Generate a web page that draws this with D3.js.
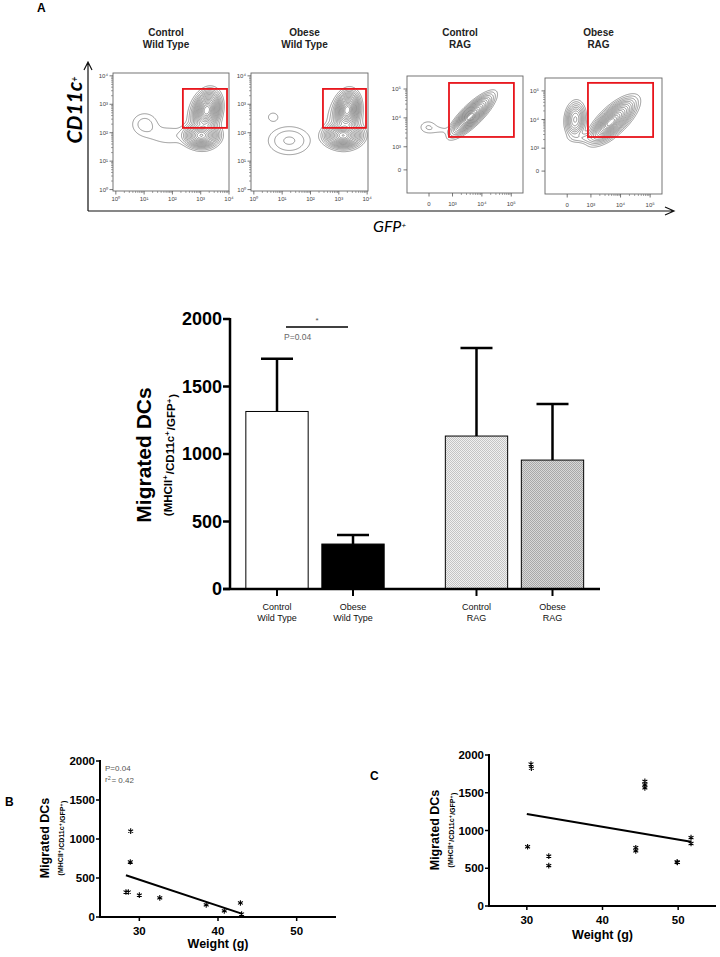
<!DOCTYPE html>
<html><head><meta charset="utf-8">
<script src="https://cdn.jsdelivr.net/npm/d3@7"></script>
<style>body{margin:0;background:#fff} svg{display:block;font-family:"Liberation Sans",Arial,sans-serif}</style>
</head><body><svg id="c" width="720" height="957"></svg>
<script>
// ---------------- DATA ----------------
const flowTitles = [["Control","Wild Type"],["Obese","Wild Type"],["Control","RAG"],["Obese","RAG"]];
const logTicks = [0,1,2,3,4];
const logTickLabels = ["10⁰","10¹","10²","10³","10⁴"];
const ragTicks = [2.2,3,4,5];
const ragTickLabels = ["0","10³","10⁴","10⁵"];
// density blobs for contour plots: [cx, cy, sx, sy, rho, weight] in axis (decade) units
const blobsControlWT = [[3.22,2.8,0.2,0.28,0.2,1.0],[3.02,1.9,0.26,0.18,0,0.8],[3.1,2.35,0.28,0.42,0,0.08],[1.02,2.3,0.3,0.26,0,0.028],[1.9,1.9,0.5,0.22,0,0.02]];
const blobsObeseWT = [[3.3,2.8,0.18,0.27,0.15,1.0],[3.15,1.9,0.28,0.18,0,0.9],[3.2,2.35,0.3,0.42,0,0.08],[0.68,2.55,0.14,0.12,0,0.02],[1.25,1.72,0.45,0.3,0,0.04]];
const blobsControlRAG = [[3.66,4.1,0.3,0.3,0.82,1.0],[3.55,4.0,0.18,0.18,0.8,0.5],[2.17,3.68,0.2,0.15,0,0.03],[2.62,3.58,0.25,0.1,0,0.016]];
const blobsObeseRAG = [[3.75,3.97,0.32,0.32,0.72,1.0],[3.6,3.85,0.2,0.2,0.7,0.5],[2.47,4.0,0.15,0.27,0.1,0.4],[2.9,3.35,0.35,0.1,0,0.05]];
// gates [x1, x2, y1, y2]
const gates = [[2.37,3.93,2.17,3.54],[2.44,3.96,2.17,3.54],[2.88,5.09,3.34,5.21],[2.9,5.1,3.39,5.28]];
const contourLevels = [0.01,0.02,0.035,0.055,0.08,0.11,0.15,0.2,0.26,0.33,0.41,0.5,0.6,0.7,0.8,0.9];

const barGroups = ["Wild Type","RAG"];
const barConditions = ["Control","Obese"];
const barMeans = [1315, 333, 1133, 955];      // Control WT, Obese WT, Control RAG, Obese RAG
const barUpper = [1705, 400, 1785, 1370];     // top of error bars
const barYTicks = [0,500,1000,1500,2000];

const bWeight = [28.3, 28.6, 28.9, 28.85, 30.0, 32.6, 38.5, 40.8, 42.85, 43.0];
const bDCs    = [320, 320, 1100, 705, 280, 245, 155, 78, 180, 38];
const bFitX = [28.3, 43.1], bFitY = [535, 40];

const cWeight = [30.55, 30.6, 30.1, 32.9, 32.9, 44.4, 44.4, 45.6, 45.6, 45.6, 49.85, 49.9, 51.7, 51.7];
const cDCs    = [1880, 1825, 785, 660, 535, 772, 730, 1650, 1605, 1565, 583, 578, 905, 828];
const cFitX = [30.0, 51.7], cFitY = [1218, 852];

const scatterXTicks = [30,40,50];
const scatterYTicks = [0,500,1000,1500,2000];

// ---------------- DRAW ----------------
const svg = d3.select("#c");
const defs = svg.append("defs");

function supText(sel, parts, supSize){
  parts.forEach(([t,sup])=>{
    if(sup){ sel.append("tspan").attr("dy","-0.45em").attr("font-size",supSize).text(t);
             sel.append("tspan").attr("dy","0.45em").text("\u200A"); }
    else sel.append("tspan").text(t);
  });
}

// ---- Panel A ----
svg.append("text").attr("x",37).attr("y",12).attr("font-weight","bold").attr("font-size",12).text("A");

const flowCfgs = [
  {x0:113,y0:73,w:116,h:118,xd:[-0.1,4.0],yd:[-0.05,4.1],ticks:logTicks,labels:logTickLabels,blobs:blobsControlWT,log:true},
  {x0:251,y0:73,w:117,h:118,xd:[-0.1,4.03],yd:[-0.05,4.1],ticks:logTicks,labels:logTickLabels,blobs:blobsObeseWT,log:true},
  {x0:407,y0:76,w:116,h:117,xd:[1.45,5.4],yd:[1.4,5.45],ticks:ragTicks,labels:ragTickLabels,blobs:blobsControlRAG,log:false},
  {x0:545,y0:78,w:117,h:116,xd:[1.45,5.4],yd:[1.4,5.45],ticks:ragTicks,labels:ragTickLabels,blobs:blobsObeseRAG,log:false}
];

flowCfgs.forEach((cfg,k)=>{
  const g = svg.append("g");
  const xs = d3.scaleLinear().domain(cfg.xd).range([cfg.x0,cfg.x0+cfg.w]);
  const ys = d3.scaleLinear().domain(cfg.yd).range([cfg.y0+cfg.h,cfg.y0]);
  const tt = g.append("text").attr("text-anchor","middle").attr("font-weight","bold").attr("font-size",10).attr("fill","#222");
  flowTitles[k].forEach((l,i)=>tt.append("tspan").attr("x",cfg.x0+cfg.w/2-5).attr("y",36+i*12).text(l));
  const W=cfg.w, H=cfg.h, vals=new Float64Array(W*H);
  for(let j=0;j<H;j++)for(let i=0;i<W;i++){
    const u=xs.invert(cfg.x0+i+0.5), v=ys.invert(cfg.y0+j+0.5);
    let s=0;
    cfg.blobs.forEach(([cx,cy,sx,sy,r,wt])=>{
      const dx=(u-cx)/sx, dy=(v-cy)/sy;
      const q=(dx*dx-2*r*dx*dy+dy*dy)/(1-r*r);
      s+=wt*Math.exp(-q/2);
    });
    vals[j*W+i]=s;
  }
  const M=d3.max(vals);
  const cs=d3.contours().size([W,H]).thresholds(contourLevels.map(l=>l*M))(vals);
  const cid="clip"+k;
  defs.append("clipPath").attr("id",cid).append("rect").attr("x",cfg.x0).attr("y",cfg.y0).attr("width",W).attr("height",H);
  g.append("g").attr("clip-path",`url(#${cid})`).selectAll("path").data(cs).join("path")
    .attr("transform",`translate(${cfg.x0},${cfg.y0})`)
    .attr("d",d3.geoPath()).attr("fill","none").attr("stroke","#4a4a4a").attr("stroke-width",0.55);
  g.append("rect").attr("x",cfg.x0).attr("y",cfg.y0).attr("width",W).attr("height",H)
    .attr("fill","none").attr("stroke","#666").attr("stroke-width",0.9);
  const minors=[];
  const decs = cfg.log?[0,1,2,3]:[3,4];
  decs.forEach(n=>d3.range(2,10).forEach(m=>minors.push(n+Math.log10(m))));
  minors.forEach(t=>{
    if(t<cfg.xd[1]) g.append("line").attr("x1",xs(t)).attr("x2",xs(t)).attr("y1",cfg.y0+H).attr("y2",cfg.y0+H+2).attr("stroke","#666").attr("stroke-width",0.6);
    if(t<cfg.yd[1]) g.append("line").attr("y1",ys(t)).attr("y2",ys(t)).attr("x1",cfg.x0).attr("x2",cfg.x0-2).attr("stroke","#666").attr("stroke-width",0.6);
  });
  cfg.ticks.forEach((t,i)=>{
    g.append("line").attr("x1",xs(t)).attr("x2",xs(t)).attr("y1",cfg.y0+H).attr("y2",cfg.y0+H+3.5).attr("stroke","#555").attr("stroke-width",0.8);
    g.append("line").attr("y1",ys(t)).attr("y2",ys(t)).attr("x1",cfg.x0).attr("x2",cfg.x0-3.5).attr("stroke","#555").attr("stroke-width",0.8);
    g.append("text").attr("x",xs(t)).attr("y",cfg.y0+H+(cfg.log?10:13)).attr("text-anchor","middle").attr("font-size",6).attr("fill","#444").text(cfg.labels[i]);
    g.append("text").attr("x",cfg.x0-(cfg.log?5:6)).attr("y",ys(t)+2).attr("text-anchor","end").attr("font-size",6).attr("fill","#444").text(cfg.labels[i]);
  });
  const gt=gates[k];
  g.append("rect").attr("x",xs(gt[0])).attr("y",ys(gt[3])).attr("width",xs(gt[1])-xs(gt[0])).attr("height",ys(gt[2])-ys(gt[3]))
    .attr("fill","none").attr("stroke","#e8141b").attr("stroke-width",1.8);
});

svg.append("path").attr("d","M88,211 L88,63 M84,70 L88,62 L92,70").attr("fill","none").attr("stroke","#111").attr("stroke-width",1.2);
svg.append("path").attr("d","M88,211 L673,211 M665,207 L674,211 L665,215").attr("fill","none").attr("stroke","#111").attr("stroke-width",1.2);
const cd = svg.append("text").attr("transform","translate(82,110) rotate(-90)").attr("text-anchor","middle")
  .attr("font-size",21).attr("font-weight","bold").attr("font-style","italic").attr("font-family","Lato, sans-serif");
cd.append("tspan").text("CD11c");
cd.append("tspan").attr("dy","-0.45em").attr("font-size",9).text("+");
const gfp = svg.append("text").attr("x",373).attr("y",232).attr("font-size",16).attr("font-style","italic").attr("font-family","Lato, sans-serif");
supText(gfp,[["GFP",false],["+",true]],8);

// ---- Bar chart ----
const pat1 = defs.append("pattern").attr("id","pLight").attr("width",2).attr("height",2).attr("patternUnits","userSpaceOnUse");
pat1.append("rect").attr("width",2).attr("height",2).attr("fill","#f0f0f0");
pat1.append("rect").attr("width",1).attr("height",1).attr("fill","#c4c4c4");
pat1.append("rect").attr("x",1).attr("y",1).attr("width",1).attr("height",1).attr("fill","#c4c4c4");
const pat2 = defs.append("pattern").attr("id","pDark").attr("width",2).attr("height",2).attr("patternUnits","userSpaceOnUse");
pat2.append("rect").attr("width",2).attr("height",2).attr("fill","#d8d8d8");
pat2.append("rect").attr("width",1).attr("height",1).attr("fill","#a8a8a8");
pat2.append("rect").attr("x",1).attr("y",1).attr("width",1).attr("height",1).attr("fill","#a8a8a8");
const barFills = ["#ffffff","#000000","url(#pLight)","url(#pDark)"];

const by = d3.scaleLinear().domain([0,2000]).range([589,319]);
const gx = d3.scaleBand().domain(barGroups).range([239,590.5]).paddingInner(0.238).paddingOuter(0);
const ix = d3.scaleBand().domain(barConditions).range([0,gx.bandwidth()]).paddingInner(0.18).paddingOuter(0.09);
const barData = [];
barGroups.forEach((gname,gi)=>barConditions.forEach((c,ci)=>{
  const idx=gi*2+ci;
  barData.push({g:gname,c:c,mean:barMeans[idx],up:barUpper[idx],fill:barFills[idx],x:gx(gname)+ix(c)});
}));
const bg = svg.append("g");
bg.selectAll("rect.bar").data(barData).join("rect").attr("class","bar")
  .attr("x",d=>d.x).attr("width",ix.bandwidth()).attr("y",d=>by(d.mean)).attr("height",d=>by(0)-by(d.mean))
  .attr("fill",d=>d.fill).attr("stroke","#000").attr("stroke-width",1);
barData.forEach(d=>{
  const cx=d.x+ix.bandwidth()/2;
  bg.append("line").attr("x1",cx).attr("x2",cx).attr("y1",by(d.mean)).attr("y2",by(d.up)).attr("stroke","#000").attr("stroke-width",2.5);
  bg.append("line").attr("x1",cx-16).attr("x2",cx+16).attr("y1",by(d.up)).attr("y2",by(d.up)).attr("stroke","#000").attr("stroke-width",2.5);
  bg.append("line").attr("x1",cx).attr("x2",cx).attr("y1",589).attr("y2",596).attr("stroke","#000").attr("stroke-width",2);
  const t=bg.append("text").attr("text-anchor","middle").attr("font-size",9).attr("fill","#111");
  t.append("tspan").attr("x",cx).attr("y",610).text(d.c);
  t.append("tspan").attr("x",cx).attr("y",621).text(d.g);
});
bg.append("line").attr("x1",230).attr("x2",230).attr("y1",318).attr("y2",590).attr("stroke","#000").attr("stroke-width",2.5);
bg.append("line").attr("x1",223).attr("x2",600).attr("y1",589).attr("y2",589).attr("stroke","#000").attr("stroke-width",2.5);
barYTicks.forEach(t=>{
  bg.append("line").attr("x1",223).attr("x2",230).attr("y1",by(t)).attr("y2",by(t)).attr("stroke","#000").attr("stroke-width",2.5);
  bg.append("text").attr("x",222).attr("y",by(t)).attr("dy","0.36em").attr("text-anchor","end").attr("font-size",18).attr("font-weight","bold").text(t);
});
bg.append("text").attr("transform","translate(151,455) rotate(-90)").attr("text-anchor","middle").attr("font-size",21).attr("font-weight","bold").text("Migrated DCs");
const sl=bg.append("text").attr("transform","translate(172,455) rotate(-90)").attr("text-anchor","middle").attr("font-size",11.5).attr("font-weight","bold");
supText(sl,[["(MHCII",false],["+",true],["/CD11c",false],["+",true],["/GFP",false],["+",true],[")",false]],8);
bg.append("line").attr("x1",286).attr("x2",348).attr("y1",327).attr("y2",327).attr("stroke","#000").attr("stroke-width",1.5);
bg.append("text").attr("x",317).attr("y",323).attr("text-anchor","middle").attr("font-size",8).attr("fill","#555").text("*");
bg.append("text").attr("x",284).attr("y",340).attr("font-size",8.5).attr("fill","#666").text("P=0.04");

// ---- Scatter panels ----
function scatter(cfg){
  const g=svg.append("g");
  const xs=d3.scaleLinear().domain([25,55]).range([cfg.x0,cfg.x1]);
  const ys=d3.scaleLinear().domain([0,2000]).range([cfg.y0,cfg.y1]);
  g.append("line").attr("x1",cfg.x0).attr("x2",cfg.x0).attr("y1",cfg.y1-1).attr("y2",cfg.y0+1).attr("stroke","#000").attr("stroke-width",2);
  g.append("line").attr("x1",cfg.x0-1).attr("x2",cfg.x1).attr("y1",cfg.y0).attr("y2",cfg.y0).attr("stroke","#000").attr("stroke-width",2);
  scatterYTicks.forEach(t=>{
    g.append("line").attr("x1",cfg.x0-4).attr("x2",cfg.x0).attr("y1",ys(t)).attr("y2",ys(t)).attr("stroke","#000").attr("stroke-width",1.5);
    g.append("text").attr("x",cfg.x0-5).attr("y",ys(t)).attr("dy","0.36em").attr("text-anchor","end").attr("font-size",11.5).attr("font-weight","bold").text(t);
  });
  scatterXTicks.forEach(t=>{
    g.append("line").attr("x1",xs(t)).attr("x2",xs(t)).attr("y1",cfg.y0).attr("y2",cfg.y0+4).attr("stroke","#000").attr("stroke-width",1.5);
    g.append("text").attr("x",xs(t)).attr("y",cfg.y0+18).attr("text-anchor","middle").attr("font-size",11.5).attr("font-weight","bold").text(t);
  });
  g.append("text").attr("x",xs(40)).attr("y",cfg.y0+cfg.xlabDy).attr("text-anchor","middle").attr("font-size",12.5).attr("font-weight","bold").text("Weight (g)");
  g.append("text").attr("transform",`translate(${cfg.lab1},${cfg.labY}) rotate(-90)`).attr("text-anchor","middle").attr("font-size",12.5).attr("font-weight","bold").text("Migrated DCs");
  const s=g.append("text").attr("transform",`translate(${cfg.lab2},${cfg.labY}) rotate(-90)`).attr("text-anchor","middle").attr("font-size",7).attr("font-weight","bold");
  supText(s,[["(MHCII",false],["+",true],["/CD11c",false],["+",true],["/GFP",false],["+",true],[")",false]],5);
  const sym=d3.symbol(d3.symbolAsterisk,22);
  cfg.xv.forEach((x,i)=>{
    g.append("path").attr("d",sym()).attr("transform",`translate(${xs(x)},${ys(cfg.yv[i])})`).attr("fill","none").attr("stroke","#000").attr("stroke-width",1.1);
  });
  g.append("line").attr("x1",xs(cfg.fx[0])).attr("x2",xs(cfg.fx[1])).attr("y1",ys(cfg.fy[0])).attr("y2",ys(cfg.fy[1])).attr("stroke","#000").attr("stroke-width",2);
  g.append("text").attr("x",cfg.letX).attr("y",cfg.letY).attr("font-size",12).attr("font-weight","bold").text(cfg.letter);
  return {g,xs,ys};
}
const B = scatter({x0:100,x1:336,y0:917,y1:761,xv:bWeight,yv:bDCs,fx:bFitX,fy:bFitY,lab1:49,lab2:63,labY:838,xlabDy:31,letter:"B",letX:5,letY:806});
B.g.append("text").attr("x",105).attr("y",771).attr("font-size",8).attr("fill","#555").text("P=0.04");
const r2=B.g.append("text").attr("x",105).attr("y",782).attr("font-size",8).attr("fill","#555");
supText(r2,[["r",false],["2",true],["= 0.42",false]],5.5);
scatter({x0:489,x1:716,y0:906,y1:755,xv:cWeight,yv:cDCs,fx:cFitX,fy:cFitY,lab1:439,lab2:453,labY:830,xlabDy:33,letter:"C",letX:370,letY:780});
</script></body></html>
